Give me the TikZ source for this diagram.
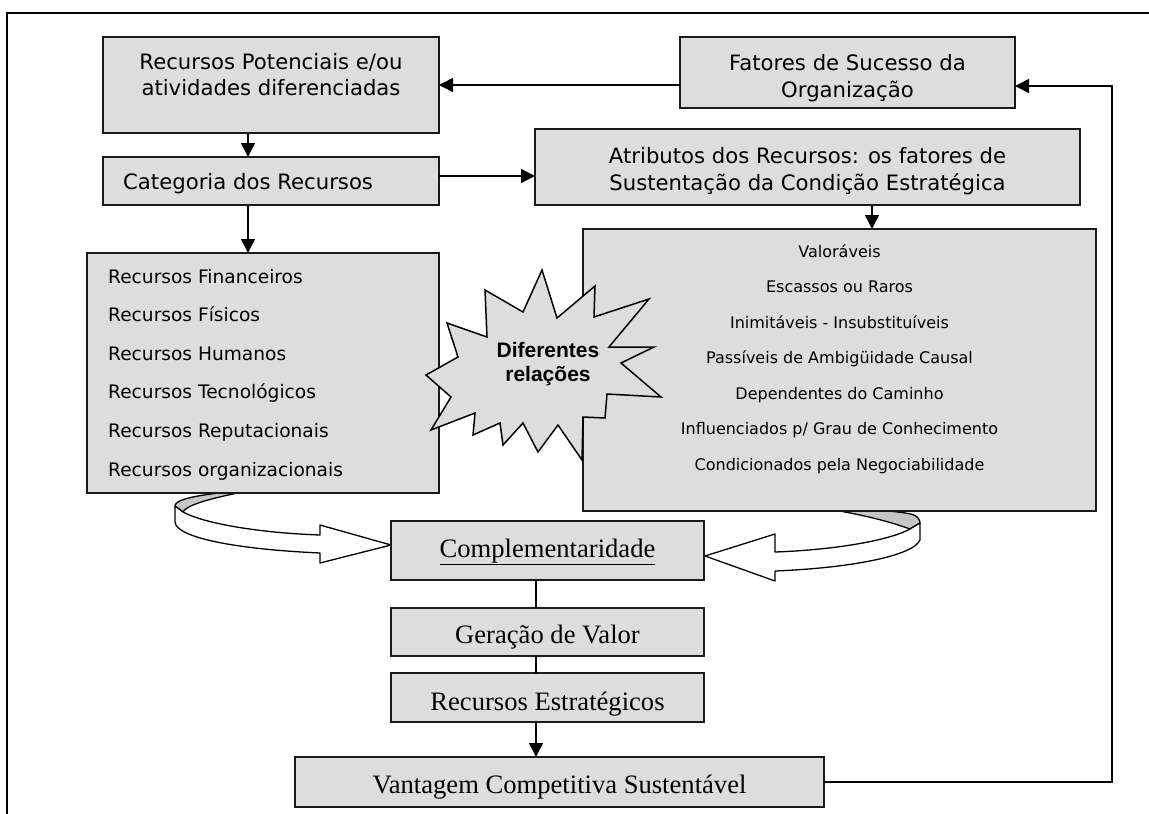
\documentclass[tikz,border=0pt]{standalone}
\usepackage{fontspec}
\setmainfont{Liberation Serif}
\newfontfamily\boxsans{DejaVu Sans}
\newfontfamily\starsans{Liberation Sans}
\usetikzlibrary{arrows.meta}

\definecolor{boxgray}{HTML}{DDDDDD}
\definecolor{foldgray}{HTML}{C6C6C6}
\definecolor{edge}{HTML}{1A1A1A}

\begin{document}
\begin{tikzpicture}[x=1pt,y=-1pt,
  box/.style={draw=edge, line width=1.6pt, fill=boxgray, inner sep=0pt, outer sep=0pt},
  link/.style={line width=1.4pt, draw=black},
  arr/.style={link, -{Triangle[length=14pt,width=14pt]}},
  ribbon/.style={draw=black, line width=1.3pt, fill=white, line join=round},
  fold/.style={draw=black, line width=1.3pt, fill=foldgray, line join=round},
  burst/.style={draw=black, line width=1.5pt, fill=boxgray, line join=miter},
  head/.style={inner sep=0pt, anchor=base, font=\boxsans\fontsize{21.2}{25}\selectfont},
  headl/.style={head, anchor=base west},
  catl/.style={inner sep=0pt, anchor=base west, font=\boxsans\fontsize{18.6}{22}\selectfont},
  attr/.style={inner sep=0pt, anchor=base, font=\boxsans\fontsize{16}{19}\selectfont},
  serif/.style={inner sep=0pt, anchor=base, font=\fontsize{26.6}{30}\selectfont},
  bursttext/.style={inner sep=0pt, anchor=base, font=\starsans\bfseries\fontsize{21}{24}\selectfont}
]
\useasboundingbox (0,0) rectangle (1149,814);

% outer frame (runs off the page to the right and bottom)
\draw[line width=1.5pt] (7,814) -- (7,13) -- (1149,13);

% curved ribbon arrows into "Complementaridade" (drawn first, boxes cover their tails)
\draw[fold] (175,506) .. controls (175,497) and (215,492) .. (280,488)
  -- (262,488) .. controls (222,496) and (188,503) .. (183,512) -- cycle;
\draw[ribbon] (183,512) .. controls (205,524) and (262,533) .. (320,535)
  -- (320,525) -- (391,545) -- (320,563) -- (320,553)
  .. controls (232,549) and (176,537) .. (175,522) -- (175,506) -- cycle;

\draw[fold] (785,505) .. controls (850,508) and (905,511) .. (914,515)
  .. controls (918,517) and (920,520) .. (920,523) -- (910,529)
  .. controls (880,518) and (840,510) .. (800,505) -- cycle;
\draw[ribbon] (910,529) .. controls (888,541) and (832,550) .. (775,552)
  -- (775,534) -- (705,556) -- (775,581) -- (775,571)
  .. controls (850,568) and (913,556) .. (920,540) -- (920,523) -- cycle;

% boxes
\node[box, minimum width=336pt, minimum height=96pt]  (pot)  at (271,85)    {};
\node[box, minimum width=335pt, minimum height=71pt]  (suc)  at (847.5,72.5) {};
\node[box, minimum width=336pt, minimum height=48pt]  (cat)  at (271,181)   {};
\node[box, minimum width=545pt, minimum height=76pt]  (atr)  at (807.5,167) {};
\node[box, minimum width=352pt, minimum height=240pt] (lst)  at (263,373)   {};
\node[box, minimum width=513pt, minimum height=282pt] (cnd)  at (839.5,370) {};
\node[box, minimum width=313pt, minimum height=59pt]  (cmp)  at (547.5,550.5) {};
\node[box, minimum width=313pt, minimum height=48pt]  (ger)  at (547.5,632) {};
\node[box, minimum width=313pt, minimum height=49pt]  (est)  at (547.5,697.5) {};
\node[box, minimum width=529pt, minimum height=50pt]  (van)  at (559.5,782) {};

% guide positions for the connectors
\coordinate (colL) at (248,0);
\coordinate (colA) at (872,0);
\coordinate (colM) at (536,0);
\coordinate (rowT) at (0,85);
\coordinate (rowC) at (0,176);
\coordinate (fbtop) at (1112,86);

% connectors
\draw[arr] (suc.west |- rowT) -- (pot.east |- rowT);
\draw[arr] (pot.south -| colL) -- (cat.north -| colL);
\draw[arr] (cat.south -| colL) -- (lst.north -| colL);
\draw[arr] (cat.east |- rowC) -- (atr.west |- rowC);
\draw[arr] (atr.south -| colA) -- (cnd.north -| colA);
\draw[link] (cmp.south -| colM) -- (ger.north -| colM);
\draw[link] (ger.south -| colM) -- (est.north -| colM);
\draw[arr] (est.south -| colM) -- (van.north -| colM);
\draw[arr] (van.east) -| (fbtop) -- (suc.east |- fbtop);

% explosion between the two lists
\draw[burst] (542,270) -- (557,318) -- (595,286) -- (594,317) -- (649,299)
  -- (609,347) -- (654,347) -- (621,363) -- (661,397) -- (607,394)
  -- (605,418) -- (583,417) -- (582,460) -- (558,425) -- (538,452)
  -- (523,423) -- (503,445) -- (500,423) -- (473,435) -- (475,413)
  -- (431,430) -- (451,397) -- (426,375) -- (458,357) -- (447,323)
  -- (487,337) -- (485,290) -- (523,312) -- cycle;

% texts
\node[head] (potA) at (271,69) {Recursos Potenciais e/ou};
\node[head] (potB) at (271,95) {atividades diferenciadas};
\node[head] (sucA) at (847.5,70) {Fatores de Sucesso da};
\node[head] (sucB) at (847.5,97) {Organização};
\node[headl] (catT) at (123,189) {Categoria dos Recursos};
\node[head] (atrA) at (807.5,163) {Atributos dos Recursos: os fatores de};
\node[head] (atrB) at (807.5,190) {Sustentação da Condição Estratégica};

\node[catl] (l1) at (108,283)   {Recursos Financeiros};
\node[catl] (l2) at (108,321.6) {Recursos Físicos};
\node[catl] (l3) at (108,360.2) {Recursos Humanos};
\node[catl] (l4) at (108,398.8) {Recursos Tecnológicos};
\node[catl] (l5) at (108,437.4) {Recursos Reputacionais};
\node[catl] (l6) at (108,476)   {Recursos organizacionais};

\node[attr] (c1) at (839.5,257)   {Valoráveis};
\node[attr] (c2) at (839.5,292.5) {Escassos ou Raros};
\node[attr] (c3) at (839.5,328)   {Inimitáveis - Insubstituíveis};
\node[attr] (c4) at (839.5,363.5) {Passíveis de Ambigüidade Causal};
\node[attr] (c5) at (839.5,399)   {Dependentes do Caminho};
\node[attr] (c6) at (839.5,434.5) {Influenciados p/ Grau de Conhecimento};
\node[attr] (c7) at (839.5,470)   {Condicionados pela Negociabilidade};

\node[bursttext] (bA) at (548,357) {Diferentes};
\node[bursttext] (bB) at (548,381) {relações};

\node[serif] (cmpT) at (547.5,557) {\underline{Complementaridade}};
\node[serif] (gerT) at (547.5,643) {Geração de Valor};
\node[serif] (estT) at (547.5,710) {Recursos Estratégicos};
\node[serif] (vanT) at (559.5,793) {Vantagem Competitiva Sustentável};
\end{tikzpicture}
\end{document}
